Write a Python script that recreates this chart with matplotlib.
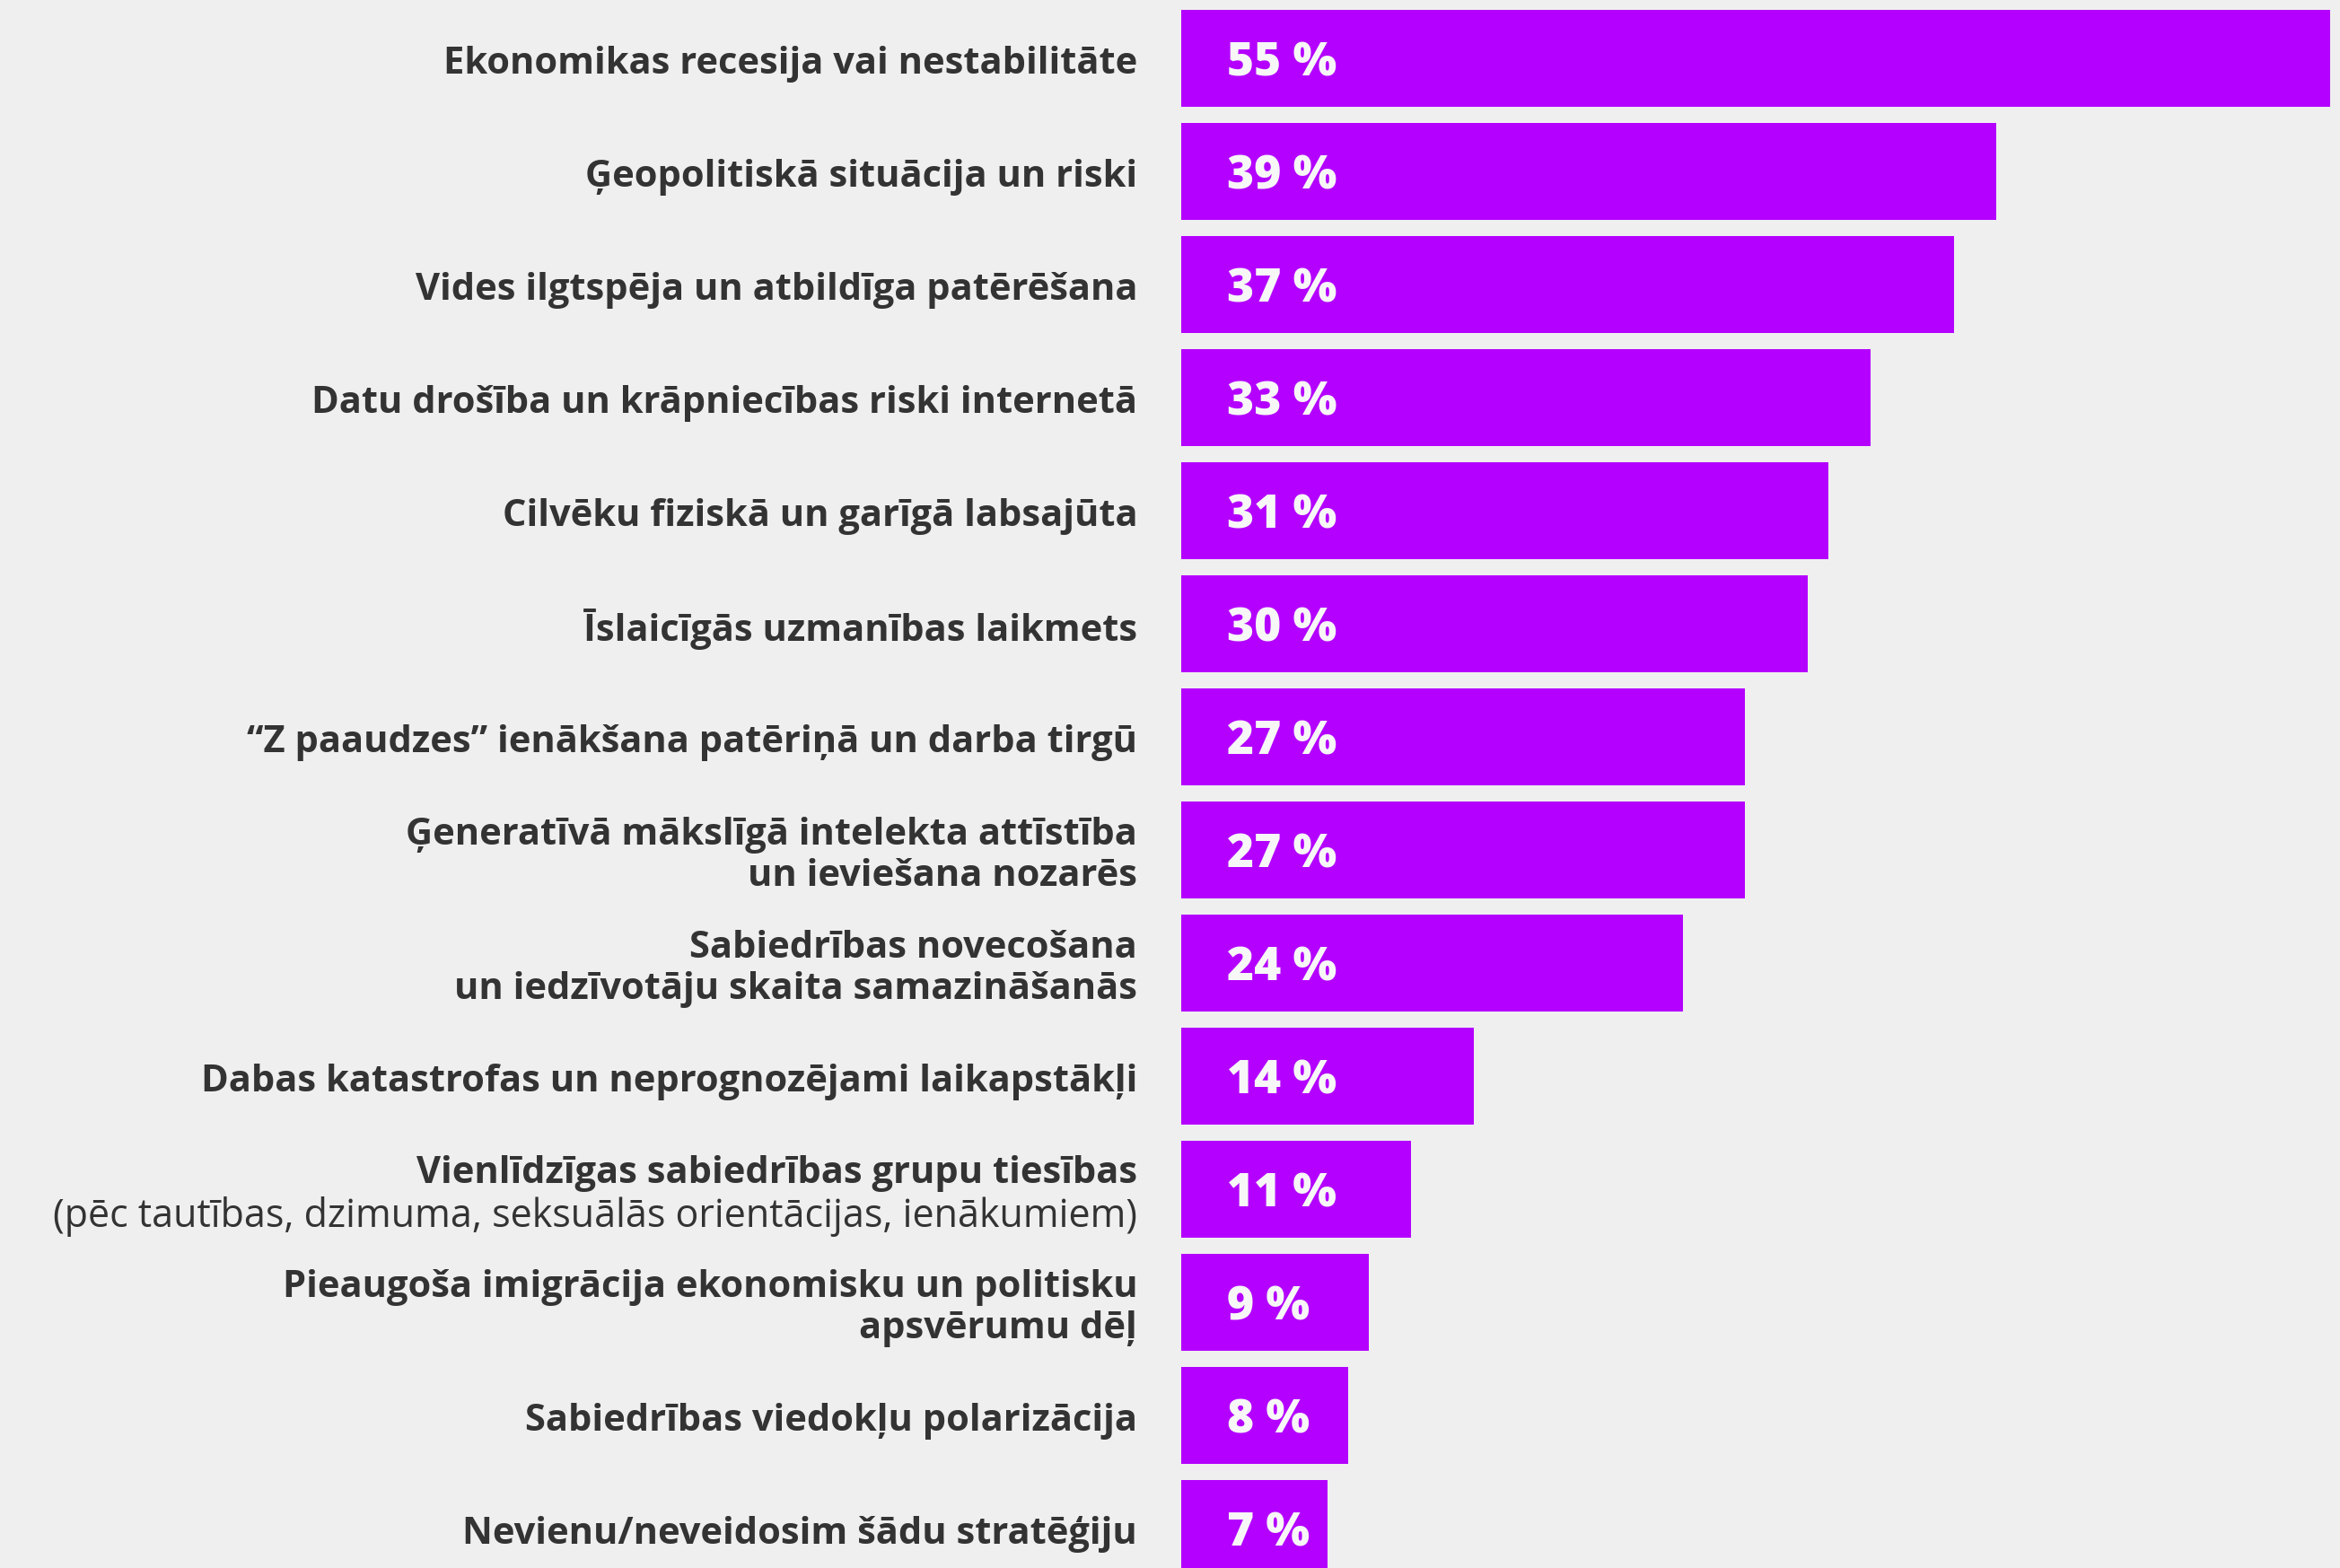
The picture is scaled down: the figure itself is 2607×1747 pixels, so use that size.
import matplotlib
matplotlib.use("Agg")
import matplotlib.pyplot as plt

# survey answers, top to bottom
labels = [
    "Ekonomikas recesija vai nestabilitāte",
    "Ģeopolitiskā situācija un riski",
    "Vides ilgtspēja un atbildīga patērēšana",
    "Datu drošība un krāpniecības riski internetā",
    "Cilvēku fiziskā un garīgā labsajūta",
    "Īslaicīgās uzmanības laikmets",
    "“Z paaudzes” ienākšana patēriņā un darba tirgū",
    "Ģeneratīvā mākslīgā intelekta attīstība\nun ieviešana nozarēs",
    "Sabiedrības novecošana\nun iedzīvotāju skaita samazināšanās",
    "Dabas katastrofas un neprognozējami laikapstākļi",
    "Vienlīdzīgas sabiedrības grupu tiesības",
    "Pieaugoša imigrācija ekonomisku un politisku\napsvērumu dēļ",
    "Sabiedrības viedokļu polarizācija",
    "Nevienu/neveidosim šādu stratēģiju",
]
notes = {10: "(pēc tautības, dzimuma, seksuālās orientācijas, ienākumiem)"}
values = [55, 39, 37, 33, 31, 30, 27, 27, 24, 14, 11, 9, 8, 7]

bg = "#EFEFEF"
purple = "#B400FF"
dark = "#333333"
font = "Open Sans"

fig = plt.figure(figsize=(26.07, 17.47), dpi=100, facecolor=bg)
left, right = 1316 / 2607, 2596 / 2607
ax = fig.add_axes([left, 0, right - left, 1])
ax.set_facecolor(bg)

pos = list(range(len(values)))
ax.barh(pos, values, height=108 / 126, color=purple, linewidth=0)
ax.set_xlim(0, 55)
ax.set_ylim(13.349, -0.516)
ax.axis("off")

dy = 0.05  # nudge text down to the optical centre of each bar
for i, (lab, v) in enumerate(zip(labels, values)):
    ax.text(2.2, i + dy, f"{v} %", color="#F7F7F7", fontsize=37, fontweight="heavy",
            family=font, va="center", ha="left")
    if i in notes:
        ax.text(-2.1, i - 0.19 + dy, lab, color=dark, fontsize=30, fontweight="bold",
                family=font, va="center", ha="right", clip_on=False)
        ax.text(-2.1, i + 0.19 + dy, notes[i], color=dark, fontsize=31,
                family=font, va="center", ha="right", clip_on=False)
    else:
        ax.text(-2.1, i + dy, lab, color=dark, fontsize=30, fontweight="bold",
                family=font, va="center", ha="right", linespacing=1.18,
                multialignment="right", clip_on=False)

fig.savefig("out.png", dpi=100, facecolor=bg)
